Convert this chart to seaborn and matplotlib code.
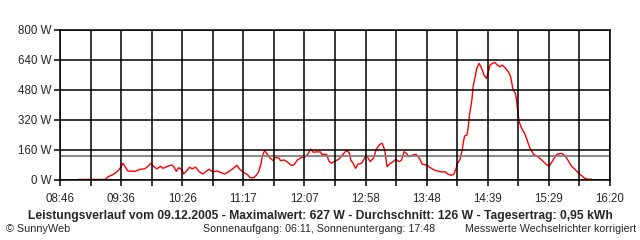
import matplotlib
matplotlib.use("Agg")
import matplotlib.pyplot as plt
import seaborn as sns
import numpy as np
import pandas as pd

# ---- data ----
times = ["09:01","09:23","09:26","09:30","09:33","09:35","09:38","09:42","09:48","09:52",
         "09:56","09:59","10:01","10:04","10:06","10:09","10:11","10:14","10:18","10:20",
         "10:22","10:24","10:27","10:28","10:31","10:33","10:35","10:38","10:41","10:44",
         "10:47","10:49","10:52","10:56","10:58","11:02","11:05","11:08","11:12","11:15",
         "11:17","11:21","11:23","11:26","11:28","11:30","11:32","11:33","11:35","11:37",
         "11:39","11:42","11:44","11:47","11:48","11:51","11:54","11:57","11:59","12:02",
         "12:05","12:08","12:11","12:13","12:15","12:18","12:21","12:22","12:26","12:28",
         "12:30","12:33","12:36","12:38","12:41","12:43","12:45","12:46","12:48","12:50",
         "12:52","12:55","12:58","12:59","13:02","13:05","13:07","13:10","13:12","13:14",
         "13:16","13:18","13:21","13:23","13:26","13:28","13:30","13:32","13:34","13:37",
         "13:40","13:43","13:45","13:49","13:51","13:55","14:00","14:04","14:06","14:09",
         "14:11","14:13","14:14","14:16","14:18","14:19","14:20","14:22","14:23","14:24",
         "14:26","14:27","14:29","14:30","14:32","14:34","14:36","14:38","14:40","14:41",
         "14:43","14:45","14:47","14:49","14:51","14:53","14:56","14:58","14:59","15:00",
         "15:02","15:03","15:04","15:05","15:07","15:10","15:12","15:14","15:17","15:19",
         "15:22","15:25","15:28","15:30","15:33","15:36","15:40","15:43","15:46","15:48",
         "15:51","15:54","15:57","15:59","16:02","16:05"]
watts = [3,3,18,30,44,57,89,48,46,57,
         60,75,89,68,60,73,62,71,80,71,
         46,66,53,32,53,68,60,68,44,32,
         48,57,44,48,41,32,44,57,78,53,
         44,27,12,12,25,44,89,128,158,139,
         119,103,121,116,103,107,94,78,80,107,
         119,121,142,165,148,150,150,137,137,101,
         89,101,110,124,148,156,142,107,89,62,
         85,89,124,133,98,119,164,190,196,160,
         71,85,98,110,98,107,151,142,124,133,
         137,112,84,80,68,53,44,43,32,25,
         30,62,89,107,160,204,235,240,281,347,
         427,498,560,596,622,596,560,542,587,613,
         622,627,613,604,613,601,578,551,516,480,
         462,418,356,311,276,242,204,169,137,130,
         116,98,80,75,107,137,142,130,98,75,
         57,36,21,9,4,4]

average_w = 126
x_start, x_end = "08:46", "16:20"
x_tick_labels = ["08:46","09:36","10:26","11:17","12:07","12:58","13:48","14:39","15:29","16:20"]
y_ticks = [0, 160, 320, 480, 640, 800]
y_tick_labels = ["0 W","160 W","320 W","480 W","640 W","800 W"]

title = "Leistungsverlauf vom 09.12.2005 - Maximalwert: 627 W - Durchschnitt: 126 W - Tagesertrag: 0,95 kWh"
foot_left = "© SunnyWeb"
foot_mid = "Sonnenaufgang: 06:11, Sonnenuntergang: 17:48"
foot_right = "Messwerte Wechselrichter korrigiert"

def to_min(s):
    h, m = s.split(":")
    return int(h) * 60 + int(m)

df = pd.DataFrame({"t": [to_min(t) for t in times], "w": watts})

sns.set_theme(style="white")
plt.rcParams["font.family"] = ["Liberation Sans", "DejaVu Sans"]

fig = plt.figure(figsize=(6.4, 2.4), dpi=100)
fig.patch.set_facecolor("white")
ax = fig.add_axes([60/640, 60/240, 550/640, 150/240])

sns.lineplot(data=df, x="t", y="w", ax=ax, color="#ff0000", linewidth=1.0, zorder=2)
ax.axhline(average_w, color="#808080", linewidth=1.3, zorder=3)

x0, x1 = to_min(x_start), to_min(x_end)
ax.set_xlim(x0, x1)
ax.set_ylim(0, 800)
minor = np.linspace(x0, x1, 19)
ax.set_xticks(minor[::2])
ax.set_xticklabels(x_tick_labels)
ax.set_xticks(minor[1::2], minor=True)
ax.set_yticks(y_ticks)
ax.set_yticklabels(y_tick_labels)
ax.set_xlabel("")
ax.set_ylabel("")

for v in minor:
    ax.axvline(v, color="black", linewidth=1.1, zorder=4)
for v in y_ticks:
    ax.axhline(v, color="black", linewidth=1.1, zorder=4)

ax.tick_params(axis="x", which="both", direction="out", length=4, width=1.1,
               color="black", bottom=True, labelsize=8.3, pad=5)
ax.tick_params(axis="y", which="both", direction="out", length=4, width=1.1,
               color="black", left=True, labelsize=8.3, pad=2)
for s in ax.spines.values():
    s.set_color("black")
    s.set_linewidth(1.1)
    s.set_zorder(5)

fig.text(0.5, 1 - 216/240, title, ha="center", va="center", fontsize=8.72, fontweight="bold")
fig.text(6/640, 1 - 229/240, foot_left, ha="left", va="center", fontsize=7.8)
fig.text(203/640, 1 - 229/240, foot_mid, ha="left", va="center", fontsize=7.7)
fig.text(636/640, 1 - 229/240, foot_right, ha="right", va="center", fontsize=7.7)

fig.savefig("out.png", dpi=100, facecolor="white")
